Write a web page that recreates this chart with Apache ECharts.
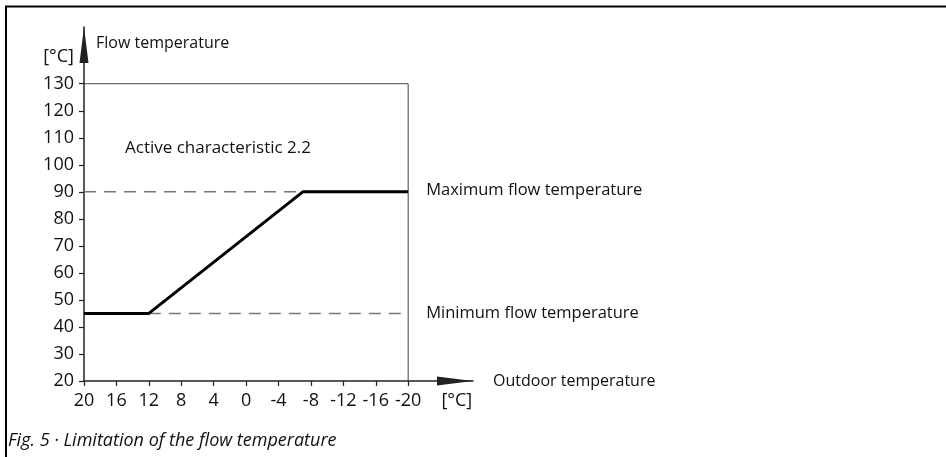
<!DOCTYPE html>
<html>
<head>
<meta charset="utf-8">
<script src="https://cdn.jsdelivr.net/npm/echarts@6/dist/echarts.min.js"></script>
<style>
html,body{margin:0;padding:0;background:#fff;}
#chart{width:946px;height:457px;}
</style>
</head>
<body>
<div id="chart"></div>
<script>
// Outdoor temperature (x) vs flow temperature (y)
var outdoorTemps = [20, 12, -7, -20];
var flowTemps = [45, 45, 90, 90];
var maxFlow = 90;
var maxFlowFrom = [20, -7];
var minFlow = 45;
var minFlowFrom = [12, -20];
var xTicks = [20, 16, 12, 8, 4, 0, -4, -8, -12, -16, -20];
var yTicks = [20, 30, 40, 50, 60, 70, 80, 90, 100, 110, 120, 130];
var frameX = [20, -20, -20];
var frameY = [130, 130, 20];
var unitLabel = '[°C]';
var xUnitAt = -26;
var yUnitAt = 140;

var FONT = 'Open Sans';
var chart = echarts.init(document.getElementById('chart'), null, {renderer: 'canvas'});

function pairs(xs, ys) { return xs.map(function (x, i) { return [x, ys[i]]; }); }

var mainData = pairs(outdoorTemps, flowTemps);
var maxLabelPoint = [[outdoorTemps[outdoorTemps.length - 1], maxFlow]];
var minLabelPoint = [[minFlowFrom[1], minFlow]];

var option = {
  backgroundColor: '#fff',
  animation: false,
  title: [
    {text: 'Active characteristic 2.2', left: 125, top: 140,
      textStyle: {fontFamily: FONT, fontSize: 17, fontWeight: 'normal', color: '#111'}, padding: 0},
    {text: 'Fig. 5 · Limitation of the flow temperature', left: 8, top: 432,
      textStyle: {fontFamily: FONT, fontSize: 18, fontStyle: 'italic', fontWeight: 'normal', color: '#111'}, padding: 0}
  ],
  graphic: [
    {type: 'line', shape: {x1: 5, y1: 6.5, x2: 946, y2: 6.5}, style: {stroke: '#000', lineWidth: 2}, silent: true},
    {type: 'line', shape: {x1: 6, y1: 6, x2: 6, y2: 457}, style: {stroke: '#000', lineWidth: 2}, silent: true}
  ],
  grid: {left: 84, right: 473, top: 27, bottom: 76, containLabel: false, outerBoundsMode: 'none'},
  xAxis: {
    type: 'value', inverse: true, min: -28, max: 20,
    name: 'Outdoor temperature', nameLocation: 'start', nameGap: 20,
    nameTextStyle: {fontFamily: FONT, fontSize: 16, color: '#111', align: 'left', verticalAlign: 'middle'},
    splitLine: {show: false},
    axisLine: {show: true, onZero: false, lineStyle: {color: '#222', width: 1.5},
      symbol: ['none', 'triangle'], symbolSize: [9, 36], symbolOffset: [0, -18]},
    axisTick: {show: true, length: 5, customValues: xTicks, lineStyle: {color: '#222', width: 1.2}},
    axisLabel: {show: true, margin: 11, customValues: xTicks.concat([xUnitAt]),
      fontFamily: FONT, fontSize: 18, color: '#111',
      formatter: function (v) { return v === xUnitAt ? unitLabel : String(v); }}
  },
  yAxis: {
    type: 'value', min: 20, max: 151,
    name: 'Flow temperature', nameLocation: 'end', nameGap: -16,
    nameTextStyle: {fontFamily: FONT, fontSize: 16, color: '#111', align: 'left', verticalAlign: 'middle', padding: [0, 0, 0, 12]},
    splitLine: {show: false},
    axisLine: {show: true, onZero: false, lineStyle: {color: '#222', width: 1.5},
      symbol: ['none', 'triangle'], symbolSize: [9, 36], symbolOffset: [0, -18]},
    axisTick: {show: true, length: 5, customValues: yTicks, lineStyle: {color: '#222', width: 1.2}},
    axisLabel: {show: true, margin: 10, customValues: yTicks.concat([yUnitAt]),
      fontFamily: FONT, fontSize: 18, color: '#111',
      formatter: function (v) { return v === yUnitAt ? unitLabel : String(v); }}
  },
  series: [
    {type: 'line', name: 'frame', data: pairs(frameX, frameY), showSymbol: false, symbol: 'none', silent: true,
      lineStyle: {color: '#444', width: 1}, z: 1},
    {type: 'line', name: 'max', data: [[maxFlowFrom[0], maxFlow], [maxFlowFrom[1], maxFlow]], symbol: 'none', silent: true,
      lineStyle: {color: '#777', width: 1.5, type: [12, 8]}, z: 2},
    {type: 'line', name: 'min', data: [[minFlowFrom[0], minFlow], [minFlowFrom[1], minFlow]], symbol: 'none', silent: true,
      lineStyle: {color: '#777', width: 1.5, type: [12, 8]}, z: 2},
    {type: 'line', name: 'characteristic', data: mainData, symbol: 'none', silent: true,
      lineStyle: {color: '#000', width: 3}, z: 3},
    {type: 'scatter', name: 'maxLabel', data: maxLabelPoint, symbolSize: 0, silent: true,
      itemStyle: {color: '#111', opacity: 1},
      label: {show: true, position: 'right', distance: 18, offset: [0, -2], formatter: 'Maximum flow temperature',
        color: '#111', opacity: 1, fontFamily: FONT, fontSize: 16.5}, z: 4},
    {type: 'scatter', name: 'minLabel', data: minLabelPoint, symbolSize: 0, silent: true,
      itemStyle: {color: '#111', opacity: 1},
      label: {show: true, position: 'right', distance: 18, formatter: 'Minimum flow temperature',
        color: '#111', opacity: 1, fontFamily: FONT, fontSize: 16.5}, z: 4}
  ]
};
chart.setOption(option);
</script>
</body>
</html>
